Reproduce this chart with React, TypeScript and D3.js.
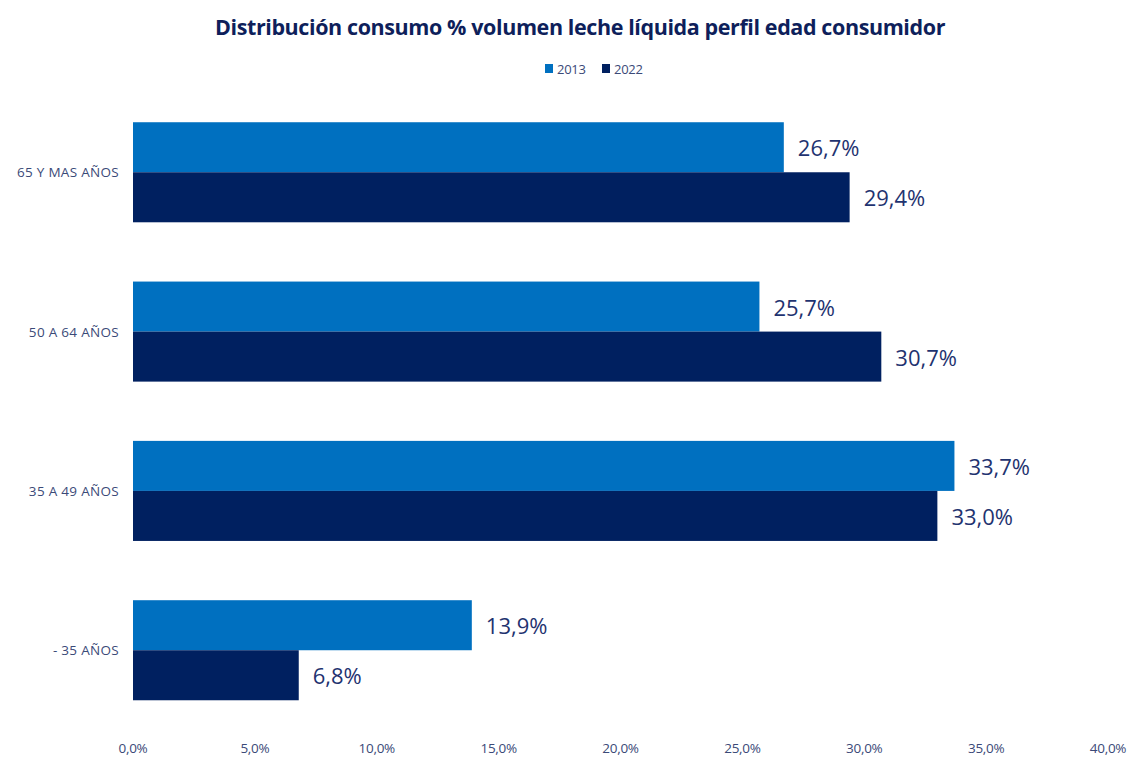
import React from "react";
import * as d3 from "d3";

const categories = ["65 Y MAS AÑOS", "50 A 64 AÑOS", "35 A 49 AÑOS", "- 35 AÑOS"];
const seriesNames = ["2013", "2022"];
const values2013 = [26.7, 25.7, 33.7, 13.9];
const values2022 = [29.4, 30.7, 33.0, 6.8];
const xTicks = [0, 5, 10, 15, 20, 25, 30, 35, 40];
const colors = ["#0070C0", "#002060"];

const W = 1131;
const H = 758;

export default function App() {
  const x = d3.scaleLinear().domain([0, 40]).range([133, 1108]);
  const y = d3.scaleBand<string>().domain(categories).range([92.6, 729.9]).paddingInner(0.372).paddingOuter(0.186);
  const inner = d3.scaleBand<string>().domain(seriesNames).range([0, y.bandwidth()]);
  const fmt = (v: number) => v.toFixed(1).replace(".", ",") + "%";
  const series = [values2013, values2022];
  const font = "'Open Sans', 'Noto Sans', sans-serif";

  return (
    <svg width={W} height={H} style={{ position: "absolute", left: 0, top: 0, background: "#fff" }} fontFamily={font}>
      <text x={580} y={35} textAnchor="middle" fontSize={21.5} fontWeight={700} fill="#0E1F5B" letterSpacing={-0.4}>
        Distribución consumo % volumen leche líquida perfil edad consumidor
      </text>
      {/* legend */}
      <g>
        <rect x={545} y={64} width={8} height={9} fill={colors[0]} />
        <text x={557} y={74} fontSize={13} fill="#3B4A78" letterSpacing={-0.3}>2013</text>
        <rect x={602} y={64} width={8} height={9} fill={colors[1]} />
        <text x={614} y={74} fontSize={13} fill="#3B4A78" letterSpacing={-0.3}>2022</text>
      </g>
      {categories.map((c, i) => (
        <g key={c}>
          <text x={119} y={(y(c) as number) + y.bandwidth() / 2 + 5} textAnchor="end" fontSize={13.5} fill="#3B4A78" letterSpacing={0.3}>
            {c}
          </text>
          {seriesNames.map((s, j) => {
            const v = series[j][i];
            const by = (y(c) as number) + (inner(s) as number);
            return (
              <g key={s}>
                <rect x={x(0)} y={by} width={x(v) - x(0)} height={inner.bandwidth()} fill={colors[j]} />
                <text x={x(v) + 14} y={by + inner.bandwidth() / 2 + 9} fontSize={22} fill="#1F3370">
                  {fmt(v)}
                </text>
              </g>
            );
          })}
        </g>
      ))}
      {xTicks.map((t) => (
        <text key={t} x={x(t)} y={753} textAnchor="middle" fontSize={13.5} fill="#3B4A78" letterSpacing={-0.3}>
          {fmt(t)}
        </text>
      ))}
    </svg>
  );
}
